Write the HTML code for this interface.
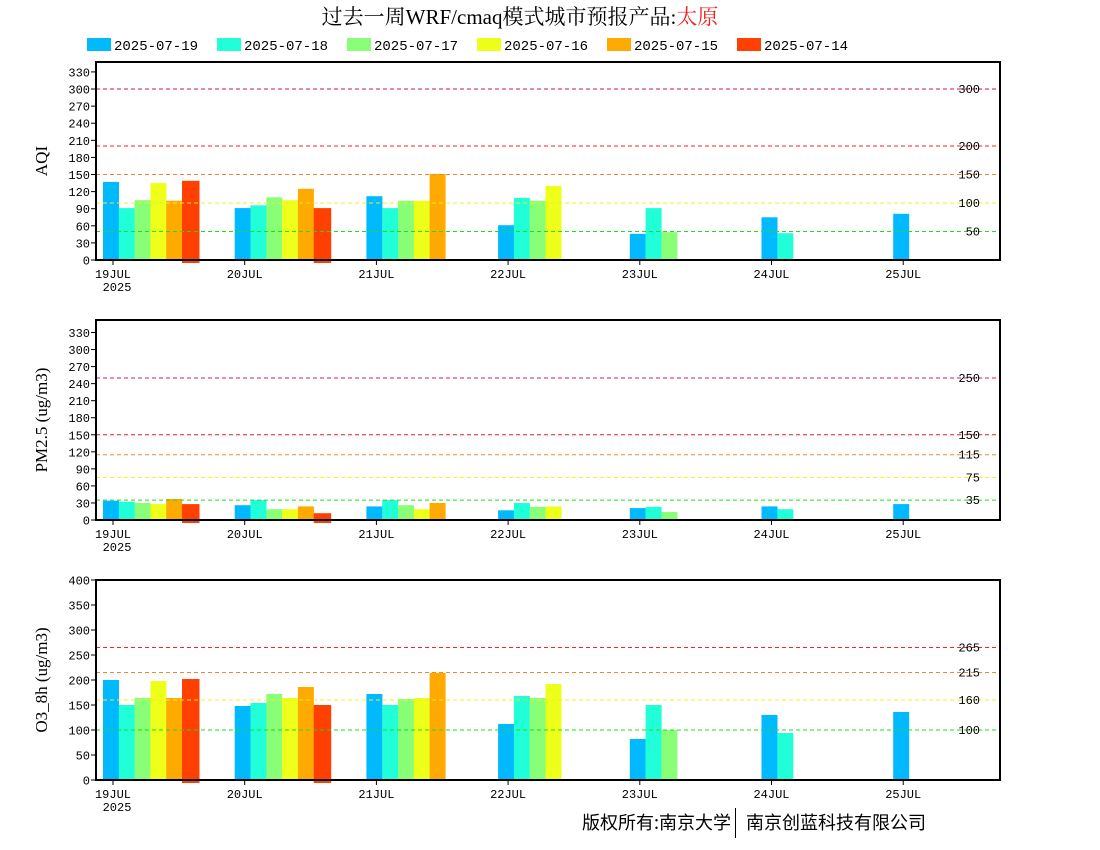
<!DOCTYPE html>
<html><head><meta charset="utf-8">
<style>
html,body{margin:0;padding:0;background:#fff;}
svg{display:block;}
.mono{font-family:"Liberation Mono","DejaVu Sans Mono",monospace;}
</style></head>
<body>
<svg id="chart" width="1100" height="850" xmlns="http://www.w3.org/2000/svg">
<text x="520" y="24" text-anchor="middle" font-family="'Liberation Serif','Noto Serif CJK SC',serif" font-size="21">过去一周WRF/cmaq模式城市预报产品:<tspan fill="#ee2222">太原</tspan></text>
<g id="legend"></g>
<g id="panels"></g>
<text x="731" y="829" text-anchor="end" font-family="'Noto Sans CJK SC',sans-serif" font-size="18">版权所有:南京大学</text>
<line x1="735.5" y1="808" x2="735.5" y2="838" stroke="#000" stroke-width="1"/>
<text x="746" y="829" font-family="'Noto Sans CJK SC',sans-serif" font-size="18">南京创蓝科技有限公司</text>
</svg>
<script>
const seriesNames = ["2025-07-19","2025-07-18","2025-07-17","2025-07-16","2025-07-15","2025-07-14"];
const seriesColors = ["#00b9ff","#20ffd8","#88ff77","#eeff1a","#ffaa00","#ff4000"];
const dayLabels = ["19JUL","20JUL","21JUL","22JUL","23JUL","24JUL","25JUL"];
// values[series][day]; null = missing
const aqiValues = [
 [137,91,112,61,46,75,81],
 [91,96,91,109,91,47,null],
 [105,110,104,104,49,null,null],
 [135,105,104,130,null,null,null],
 [104,125,151,null,null,null,null],
 [139,91,null,null,null,null,null]];
const pmValues = [
 [34,26,24,17,21,24,28],
 [32,35,35,30,23,19,null],
 [30,19,26,23,14,null,null],
 [28,19,19,24,null,null,null],
 [37,24,30,null,null,null,null],
 [28,12,null,null,null,null,null]];
const o3Values = [
 [200,148,172,112,82,130,136],
 [150,154,150,168,150,94,null],
 [164,172,162,164,100,null,null],
 [198,164,164,192,null,null,null],
 [164,186,214,null,null,null,null],
 [202,150,null,null,null,null,null]];
const aqiTicks = [0,30,60,90,120,150,180,210,240,270,300,330];
const pmTicks = [0,30,60,90,120,150,180,210,240,270,300,330];
const o3Ticks = [0,50,100,150,200,250,300,350,400];
const aqiLevels = [300,200,150,100,50];
const pmLevels = [250,150,115,75,35];
const o3Levels = [265,215,160,100];
const aqiLevelColors = ["#d0105a","#ff2020","#ee8833","#f0f020","#20dd20"];
const pmLevelColors = ["#e0107f","#e02020","#ee8833","#f0f020","#20dd20"];
const o3LevelColors = ["#ff2020","#ee8833","#f0f020","#20dd20"];

const NS = "http://www.w3.org/2000/svg";
function mk(tag, attrs, parent){const e=document.createElementNS(NS,tag);for(const k in attrs)e.setAttribute(k,attrs[k]);parent.appendChild(e);return e;}

// legend
const lg = document.getElementById('legend');
seriesNames.forEach((n,i)=>{
  const x = 87 + i*130;
  const r = mk('rect',{x:x,y:38,width:24,height:13,fill:seriesColors[i]},lg);
  
  
  const t = mk('text',{x:x+27,y:50,'font-size':14,class:'mono'},lg);
  
  
  t.textContent = n;
});

const X0 = 96, X1 = 1000;
const dayX = d => 113 + d*131.7;
const panels = [
  {name:'aqi', title:'AQI', top:62, bottom:260, max:347.4, vals:aqiValues, ticks:aqiTicks, levels:aqiLevels, lc:aqiLevelColors},
  {name:'pm25', title:'PM2.5 (ug/m3)', top:320, bottom:520, max:352, vals:pmValues, ticks:pmTicks, levels:pmLevels, lc:pmLevelColors},
  {name:'o3', title:'O3_8h (ug/m3)', top:580, bottom:780, max:400, vals:o3Values, ticks:o3Ticks, levels:o3Levels, lc:o3LevelColors}
];
const root = document.getElementById('panels');
panels.forEach(p=>{
  const g = mk('g',{},root);
  
  
  const y = v => p.bottom - v/p.max*(p.bottom-p.top);
  // bars
  p.vals.forEach((ser,s)=>{
    ser.forEach((v,d)=>{
      if(v===null) return;
      const x = dayX(d) - 10 + s*15.8;
      const h = p.bottom - y(v) + (s===5?3:0);
      const r = mk('rect',{x:x.toFixed(1),y:y(v).toFixed(1),width:s===5?17.5:16,height:h.toFixed(1),fill:seriesColors[s]},g);
      
      
    });
  });
  // levels
  p.levels.forEach((lv,i)=>{
    const l = mk('line',{x1:X0,x2:X1,y1:y(lv).toFixed(1),y2:y(lv).toFixed(1),stroke:p.lc[i],'stroke-width':1,'stroke-dasharray':'4,3'},g);
    
    
    const t = mk('text',{x:980,y:(y(lv)+4).toFixed(1),'text-anchor':'end','font-size':12,class:'mono'},g);
    
    
    t.textContent = lv;
  });
  // frame
  const f = mk('rect',{x:X0,y:p.top,width:X1-X0,height:p.bottom-p.top,fill:'none',stroke:'#000','stroke-width':2},g);
  
  
  // y ticks
  p.ticks.forEach(tv=>{
    const ty = y(tv);
    const tl = mk('line',{x1:X0-5,x2:X0,y1:ty,y2:ty,stroke:'#000','stroke-width':1},g);
    
    
    const t = mk('text',{x:X0-6,y:ty+4.5,'text-anchor':'end','font-size':12,class:'mono'},g);
    
    
    t.textContent = tv;
  });
  // x ticks
  dayLabels.forEach((lab,d)=>{
    const tx = dayX(d);
    const tl = mk('line',{x1:tx,x2:tx,y1:p.bottom,y2:p.bottom+5,stroke:'#000','stroke-width':1},g);
    
    
    const t = mk('text',{x:tx,y:p.bottom+18,'text-anchor':'middle','font-size':12,class:'mono'},g);
    
    
    t.textContent = lab;
  });
  const yr = mk('text',{x:dayX(0)+4,y:p.bottom+31,'text-anchor':'middle','font-size':12,class:'mono'},g);
  
  
  yr.textContent = '2025';
  // y title
  const cy = (p.top+p.bottom)/2;
  const yt = mk('text',{x:0,y:0,transform:`translate(47,${cy}) rotate(-90)`,'text-anchor':'middle','font-size':17,'font-family':"'Liberation Serif',serif"},g);
  
  
  yt.textContent = p.title;
});
</script>
</body></html>
